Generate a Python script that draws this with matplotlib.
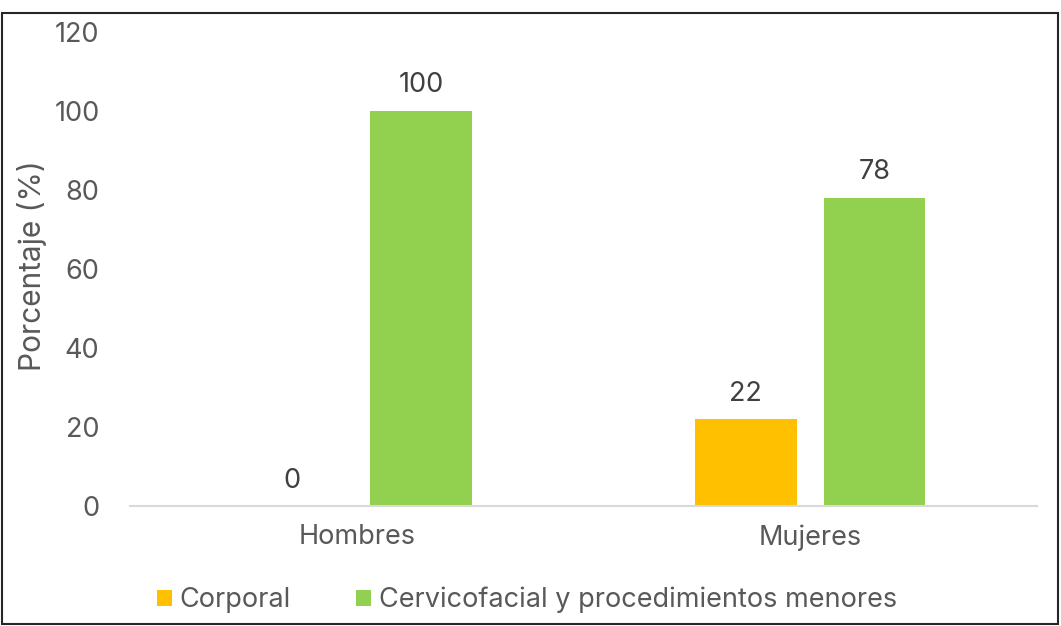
import numpy as np
import matplotlib.pyplot as plt
from matplotlib.patches import Rectangle

plt.rcParams['font.family'] = ['Inter', 'DejaVu Sans']

# datos
grupos = ['Hombres', 'Mujeres']
series = ['Corporal', 'Cervicofacial y procedimientos menores']
corporal = [0, 22]
cervicofacial = [100, 78]
colores = ['#FFC000', '#92D050']
gris = '#595959'

fig = plt.figure(figsize=(10.61, 6.26), dpi=100)
ax = fig.add_axes([130 / 1061, 1 - 506 / 626, 907 / 1061, 474 / 626])

x = np.arange(len(grupos))
ancho = 0.224
sep = 0.06
desp = (ancho + sep) / 2
b1 = ax.bar(x - desp, corporal, ancho, color=colores[0], label=series[0])
b2 = ax.bar(x + desp, cervicofacial, ancho, color=colores[1], label=series[1])

for barras in (b1, b2):
    for b in barras:
        h = b.get_height()
        ax.annotate(f'{h:g}', (b.get_x() + b.get_width() / 2, h),
                    xytext=(0, 9), textcoords='offset points',
                    ha='center', va='bottom', fontsize=19.5, color='#404040')

ax.set_xlim(-0.5, 1.5)
ax.set_ylim(0, 120)
ax.set_yticks(range(0, 121, 20))
ax.set_xticks(x)
ax.set_xticklabels(grupos)
ax.tick_params(axis='both', length=0, labelsize=19.5, colors=gris)
ax.tick_params(axis='y', pad=22)
ax.tick_params(axis='x', pad=13)
for s in ['top', 'right', 'left']:
    ax.spines[s].set_visible(False)
ax.spines['bottom'].set_color('#D9D9D9')
ax.spines['bottom'].set_linewidth(1.5)

fig.text(32 / 1061, 1 - 266 / 626, 'Porcentaje (%)', rotation=90,
         ha='center', va='center', fontsize=21.5, color=gris)

fig.legend(loc='center', bbox_to_anchor=(527 / 1061, 1 - 600 / 626), ncol=2,
           frameon=False, fontsize=19.5, labelcolor=gris, handlelength=0.55,
           handleheight=0.55, handletextpad=0.3, columnspacing=2.4)

# marco del gráfico
fig.patches.append(Rectangle((2 / 1061, 2 / 626), 1056 / 1061, 611 / 626,
                             transform=fig.transFigure, fill=False,
                             edgecolor='#262626', linewidth=1.5))

fig.savefig('out.png', dpi=100)
